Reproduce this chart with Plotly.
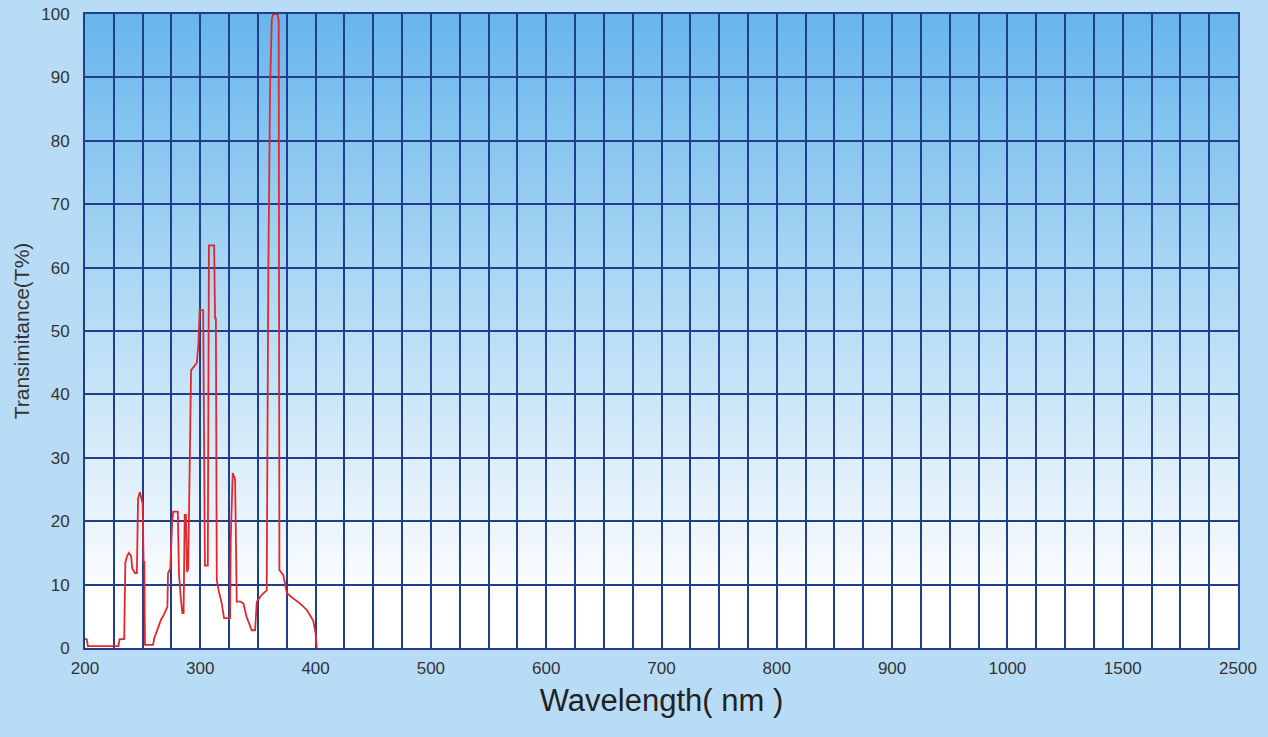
import plotly.graph_objects as go

# ----------------------------------------------------------------------
# Data (wavelength in nm, transmittance in %)
# ----------------------------------------------------------------------
wavelength = [
    200, 201.5, 202.5, 229, 230, 234, 235, 236.5, 238, 240, 241, 243.5, 245,
    246, 247.5, 249, 250, 250.8, 251.5, 252, 259, 260, 262, 264, 266, 268,
    270, 271.5, 272, 274, 275.5, 276.5, 280.5, 281.5, 283, 284.5, 285.5,
    286.5, 287.5, 288.5, 289.5, 290.5, 292, 295, 297, 298.3, 299.5, 302.5,
    303, 304, 306.5, 307.5, 312, 312.8, 313.5, 314.3, 316, 318.6, 320.6,
    325.8, 326.4, 328.1, 329.5, 330.2, 331.6, 335, 337.4, 340, 344.6, 347.5,
    349, 353.3, 357.6, 359, 360.5, 362, 363, 367, 368, 368.6, 372, 375,
    379.3, 386.6, 392.4, 398, 400, 401,
]
transmittance = [
    1.4, 1.4, 0.3, 0.3, 1.4, 1.4, 13.5, 14.5, 15, 14.5, 12.5, 11.8, 11.8,
    23.5, 24.6, 23.5, 22.8, 13.6, 13.6, 0.5, 0.5, 1.5, 2.5, 3.5, 4.5, 5.1,
    5.8, 6.5, 11.8, 12.5, 19.7, 21.5, 21.5, 11.8, 8, 5.5, 5.5,
    21, 21, 12, 12.5, 29, 43.8, 44.5, 45, 47.8, 53.3, 53.3,
    33, 13, 13, 63.5, 63.5, 52, 52, 10.7, 9, 7, 4.7,
    4.7, 17, 27.6, 27, 26.5, 7.3, 7.3, 7, 5, 2.8, 2.8,
    7.3, 8.4, 9.1, 59.6, 88.3, 99, 100, 100, 99, 12.3, 11.5, 8.7,
    8, 7, 6, 4.3, 2.3, 0,
]

# the x axis is linear up to 1000 nm, then 1000-1500 and 1500-2500 each
# take one 100 nm slot; axis values below are the slot positions
tick_values = [200, 300, 400, 500, 600, 700, 800, 900, 1000, 1100, 1200]
tick_labels = ["200", "300", "400", "500", "600", "700", "800", "900",
               "1000", "1500", "2500"]
y_ticks = [0, 10, 20, 30, 40, 50, 60, 70, 80, 90, 100]

GRID = "#1f3f8c"
FONT = "Liberation Sans, Arial, sans-serif"

fig = go.Figure()
fig.add_trace(go.Scatter(
    x=wavelength, y=transmittance, mode="lines",
    line=dict(color="#e2282c", width=1.8),
    hoverinfo="x+y", showlegend=False,
))

# vertical gradient of the plot area: blue at top fading to white
top = (104, 182, 236)
bottom = (255, 255, 255)
n_bands = 80
shapes = []
for i in range(n_bands):
    t = min(1.0, i / (n_bands * 0.92))
    c = tuple(round(top[k] + (bottom[k] - top[k]) * t) for k in range(3))
    shapes.append(dict(
        type="rect", xref="paper", yref="paper", layer="below",
        x0=0, x1=1, y1=1 - i / n_bands,
        y0=max(0.0, 1 - (i + 1) / n_bands - 0.004),
        fillcolor="rgb(%d,%d,%d)" % c, line=dict(width=0),
    ))

fig.update_layout(
    width=1268, height=737,
    margin=dict(l=85, r=30, t=14, b=89),
    paper_bgcolor="#b9dcf6",
    plot_bgcolor="rgba(0,0,0,0)",
    shapes=shapes,
    font=dict(family=FONT, color="#333333"),
    xaxis=dict(
        range=[200, 1200], tickvals=tick_values, ticktext=tick_labels,
        automargin=False,
        showgrid=True, gridcolor=GRID, gridwidth=1.8,
        minor=dict(dtick=25, tick0=200, showgrid=True, gridcolor=GRID,
                   gridwidth=1.8),
        showline=True, linecolor=GRID, linewidth=1.8, mirror=True,
        zeroline=False, ticks="outside", ticklen=4,
        tickcolor="rgba(0,0,0,0)",
        tickfont=dict(size=17, color="#333333"),
        title=dict(text="Wavelength( nm )", font=dict(size=31, color="#222222"),
                   standoff=12),
    ),
    yaxis=dict(
        range=[0, 100], tickvals=y_ticks,
        automargin=False,
        showgrid=True, gridcolor=GRID, gridwidth=1.8,
        showline=True, linecolor=GRID, linewidth=1.8, mirror=True,
        zeroline=False, ticks="outside", ticklen=10,
        tickcolor="rgba(0,0,0,0)",
        tickfont=dict(size=17, color="#333333"),
        title=dict(text="Transimitance(T%)", font=dict(size=21, color="#333333"),
                   standoff=6),
    ),
)

fig.write_html("out.html", config={"displayModeBar": False},
               post_script="document.body.style.margin='0';")
